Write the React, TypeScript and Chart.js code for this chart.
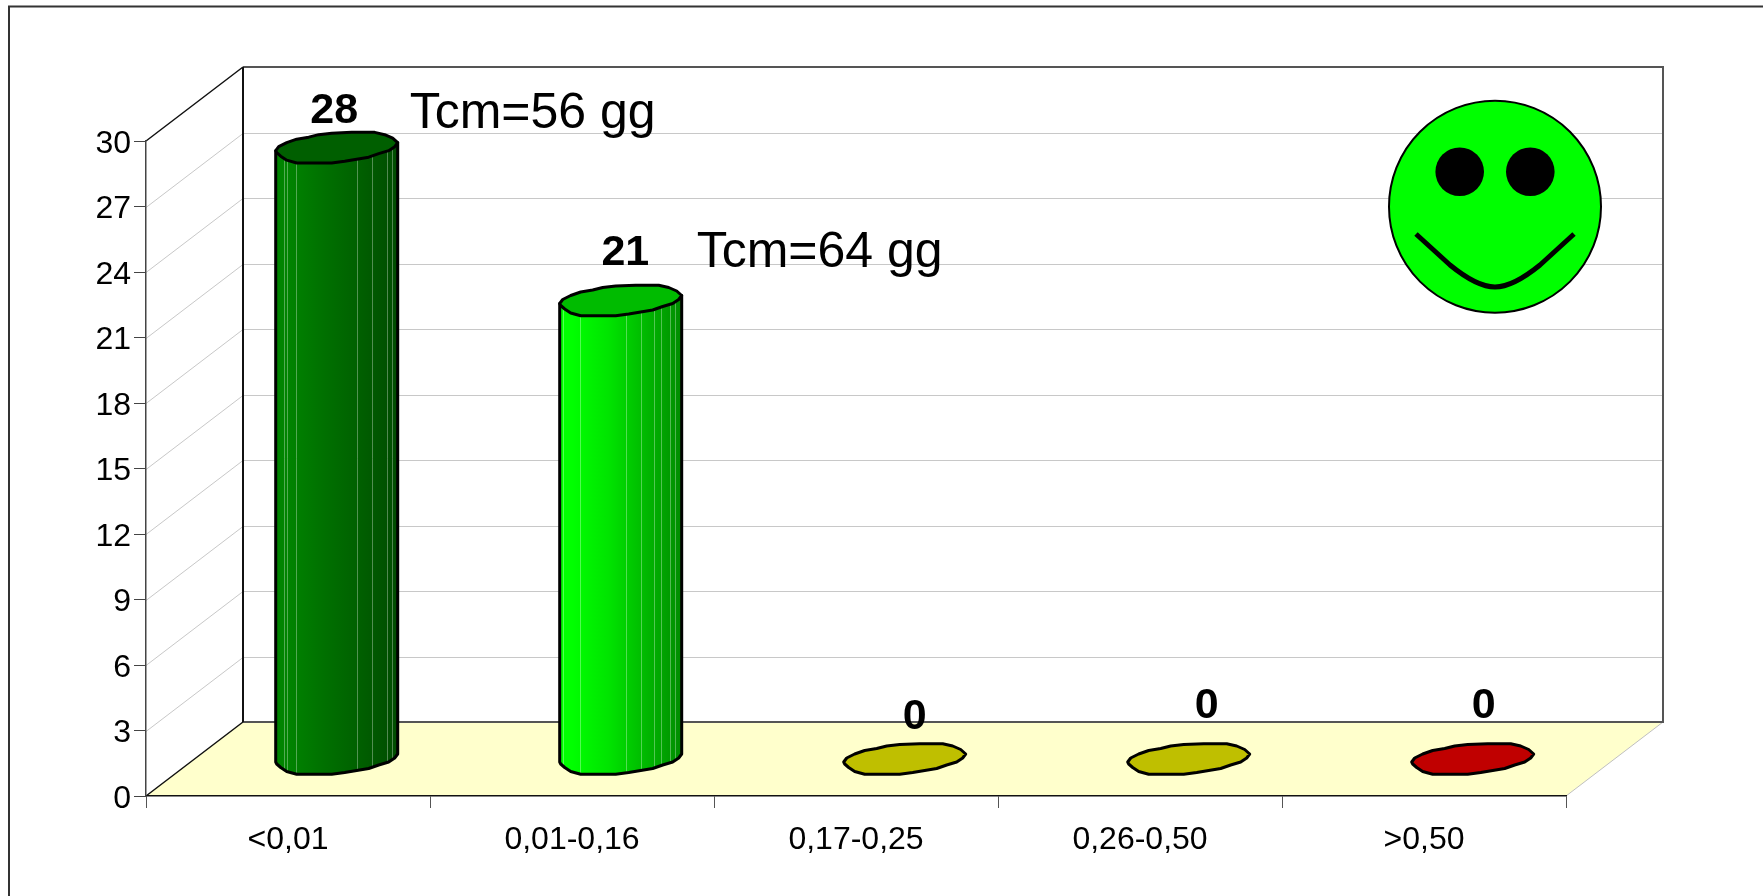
import React, { useEffect, useRef } from "react";
import { Chart, registerables } from "chart.js";

Chart.register(...registerables);

const categories = ["<0,01", "0,01-0,16", "0,17-0,25", "0,26-0,50", ">0,50"];
const values = [28, 21, 0, 0, 0];
const barColors = ["#006600", "#00dd00", "#bfbf00", "#bfbf00", "#c00000"];
const topColors = ["#005f00", "#00bb00", "#bfbf00", "#bfbf00", "#c00000"];
const gradients = [
  ["#008400", "#007000", "#006200", "#004c00"],
  ["#00ff00", "#00e400", "#00c000", "#008c00"],
  [],
  [],
  [],
];
const facets = [
  [-53, -49.4, -40.4, 20.6, 35, 50, 55],
  [-57.5, -40.8, 5.5, 20.2, 32.8, 40.2, 49.2, 54.2],
  [],
  [],
  [],
];
const labelOffsets = [
  [-2.5, -25],
  [4.6, -36],
  [10, -30],
  [18, -41],
  [11, -41],
];
const notes = [
  { text: "Tcm=56 gg", bar: 0, dx: 73, dy: -20 },
  { text: "Tcm=64 gg", bar: 1, dx: 76, dy: -34 },
];

// faceted outline of the cylinder's cap, relative to its centre; first = leftmost, RIGHT_INDEX = rightmost
const capOutline: [number, number][] = [
  [-61, 3], [-58, -1], [-50, -5], [-40, -8.5], [-28, -10.5], [-18, -13], [-5, -14.5], [15, -15.3], [38, -15.3],
  [48, -13], [56, -9.5], [61, -5],
  [58, -1], [52, 3], [42, 6], [32, 9.5], [20, 11.5], [8, 13.5], [-5, 15.3], [-25, 15.3], [-40, 15.3],
  [-50, 12.5], [-56, 8.5], [-60, 5],
];
const RIGHT_INDEX = 11;

const W = 1763;
const H = 896;
const LEFT = 146;
const RIGHT = 1566;
const TOP = 141;
const BOTTOM = 796;
const DX = 97;
const DY = 74;
const FONT = '"Liberation Sans", Arial, sans-serif';

function ring(cx: number, cy: number) {
  return capOutline.map(([a, b]) => [cx + a, cy + b] as [number, number]);
}

const scene = {
  id: "scene",
  beforeDraw(chart: any) {
    const { ctx, scales } = chart;
    const y = scales.y;
    const back = (v: number) => y.getPixelForValue(v) - DY;
    ctx.save();
    ctx.fillStyle = "#ffffff";
    ctx.fillRect(0, 0, W, H);

    // outer frame
    ctx.strokeStyle = "#333333";
    ctx.lineWidth = 2;
    ctx.beginPath();
    ctx.moveTo(9, H);
    ctx.lineTo(9, 6.5);
    ctx.lineTo(W, 6.5);
    ctx.stroke();

    // floor
    ctx.fillStyle = "#ffffcc";
    ctx.beginPath();
    ctx.moveTo(LEFT, BOTTOM);
    ctx.lineTo(LEFT + DX, BOTTOM - DY);
    ctx.lineTo(RIGHT + DX, BOTTOM - DY);
    ctx.lineTo(RIGHT, BOTTOM);
    ctx.closePath();
    ctx.fill();

    // grid on the walls
    ctx.strokeStyle = "#c8c8c8";
    ctx.lineWidth = 1;
    for (let v = 3; v < 30; v += 3) {
      const py = Math.round(y.getPixelForValue(v)) + 0.5;
      ctx.beginPath();
      ctx.moveTo(LEFT, py);
      ctx.lineTo(LEFT + DX, py - DY);
      ctx.lineTo(RIGHT + DX, py - DY);
      ctx.stroke();
    }

    // right floor edge
    ctx.strokeStyle = "#c0c0c0";
    ctx.beginPath();
    ctx.moveTo(RIGHT, BOTTOM);
    ctx.lineTo(RIGHT + DX, BOTTOM - DY);
    ctx.stroke();

    // back frame
    ctx.strokeStyle = "#555555";
    ctx.lineWidth = 2;
    ctx.beginPath();
    ctx.moveTo(LEFT + DX, back(30));
    ctx.lineTo(RIGHT + DX, back(30));
    ctx.lineTo(RIGHT + DX, back(0));
    ctx.lineTo(LEFT + DX, back(0));
    ctx.stroke();

    ctx.strokeStyle = "#111111";
    ctx.beginPath();
    ctx.moveTo(LEFT + DX, back(30));
    ctx.lineTo(LEFT + DX, back(0));
    ctx.stroke();

    ctx.lineWidth = 1.5;
    ctx.beginPath();
    ctx.moveTo(LEFT, y.getPixelForValue(30));
    ctx.lineTo(LEFT + DX, back(30));
    ctx.moveTo(LEFT, y.getPixelForValue(0));
    ctx.lineTo(LEFT + DX, back(0));
    ctx.stroke();
    ctx.restore();
  },
  beforeDatasetDraw(chart: any, args: any) {
    const { ctx, scales } = chart;
    const meta = args.meta;
    const y0 = scales.y.getPixelForValue(0) - 37;
    ctx.save();
    ctx.lineJoin = "round";
    meta.data.forEach((bar: any, i: number) => {
      const cx = bar.x + 48.7;
      const topY = bar.y - 37;
      const top = ring(cx, topY);
      if (values[i] > 0) {
        const bottom = ring(cx, y0);
        const path = new Path2D();
        path.moveTo(top[RIGHT_INDEX][0], top[RIGHT_INDEX][1]);
        for (let j = RIGHT_INDEX; j < bottom.length; j++) path.lineTo(bottom[j][0], bottom[j][1]);
        path.lineTo(bottom[0][0], bottom[0][1]);
        path.lineTo(top[0][0], top[0][1]);
        path.closePath();
        const g = ctx.createLinearGradient(cx - 61, 0, cx + 61, 0);
        gradients[i].forEach((c, k) => g.addColorStop([0.1, 0.4, 0.65, 1][k], c));
        ctx.fillStyle = g;
        ctx.fill(path);
        ctx.save();
        ctx.clip(path);
        ctx.strokeStyle = "rgba(255,255,255,0.32)";
        ctx.lineWidth = 1;
        facets[i].forEach((f) => {
          const fx = Math.round(cx + f) + 0.5;
          ctx.beginPath();
          ctx.moveTo(fx, topY - 30);
          ctx.lineTo(fx, y0 + 30);
          ctx.stroke();
        });
        ctx.restore();
        ctx.strokeStyle = "#000000";
        ctx.lineWidth = 3;
        ctx.stroke(path);
      }
      ctx.beginPath();
      top.forEach((p, j) => (j ? ctx.lineTo(p[0], p[1]) : ctx.moveTo(p[0], p[1])));
      ctx.closePath();
      ctx.fillStyle = topColors[i];
      ctx.fill();
      ctx.strokeStyle = "#000000";
      ctx.lineWidth = 3;
      ctx.stroke();
    });
    ctx.restore();
    return false;
  },
  afterDatasetsDraw(chart: any) {
    const { ctx } = chart;
    const meta = chart.getDatasetMeta(0);
    ctx.save();
    ctx.fillStyle = "#000000";
    ctx.textBaseline = "alphabetic";
    ctx.textAlign = "center";
    ctx.font = `bold 43px ${FONT}`;
    meta.data.forEach((bar: any, i: number) => {
      const topY = bar.y - 37;
      ctx.fillText(String(values[i]), bar.x + 48.7 + labelOffsets[i][0], topY + labelOffsets[i][1]);
    });
    ctx.textAlign = "left";
    ctx.font = `50px ${FONT}`;
    notes.forEach((n) => {
      const bar = meta.data[n.bar];
      ctx.fillText(n.text, bar.x + 48.7 + n.dx, bar.y - 37 + n.dy);
    });

    // smiley
    const sx = 1495;
    const sy = 206.7;
    ctx.beginPath();
    ctx.arc(sx, sy, 106, 0, Math.PI * 2);
    ctx.fillStyle = "#00ff00";
    ctx.fill();
    ctx.strokeStyle = "#000000";
    ctx.lineWidth = 2;
    ctx.stroke();
    ctx.fillStyle = "#000000";
    [-35.3, 35.3].forEach((d) => {
      ctx.beginPath();
      ctx.arc(sx + d, 171.7, 24.3, 0, Math.PI * 2);
      ctx.fill();
    });
    ctx.lineWidth = 5;
    ctx.lineJoin = "round";
    ctx.beginPath();
    ctx.moveTo(sx - 79, 234);
    ctx.lineTo(sx - 45, 265);
    ctx.quadraticCurveTo(sx - 18, 287, sx, 287);
    ctx.quadraticCurveTo(sx + 18, 287, sx + 45, 265);
    ctx.lineTo(sx + 79, 234);
    ctx.stroke();
    ctx.restore();
  },
};

export default function App() {
  const ref = useRef<HTMLCanvasElement | null>(null);
  useEffect(() => {
    document.body.style.margin = "0";
    const chart = new Chart(ref.current as HTMLCanvasElement, {
      type: "bar",
      data: {
        labels: categories,
        datasets: [{ data: values, backgroundColor: barColors, barPercentage: 0.43, categoryPercentage: 1 }],
      },
      options: {
        animation: false,
        responsive: false,
        devicePixelRatio: 1,
        layout: { padding: { left: 0, top: TOP, right: W - RIGHT, bottom: 0 } },
        plugins: { legend: { display: false }, title: { display: false }, tooltip: { enabled: false } },
        scales: {
          x: {
            offset: true,
            afterFit: (s: any) => { s.height = H - BOTTOM; },
            border: { display: true, color: "#111111", width: 1.5 },
            grid: { drawOnChartArea: false, drawTicks: true, tickLength: 12, tickColor: "#555555", offset: true },
            ticks: { color: "#000000", font: { family: FONT, size: 32 }, padding: 13, maxRotation: 0, autoSkip: false },
          },
          y: {
            min: 0,
            max: 30,
            afterFit: (s: any) => { s.width = LEFT; },
            border: { display: true, color: "#444444", width: 1.5 },
            grid: { drawOnChartArea: false, drawTicks: true, tickLength: 12, tickColor: "#444444" },
            ticks: { stepSize: 3, color: "#000000", font: { family: FONT, size: 32 }, padding: 3, labelOffset: 3 },
          },
        },
      },
      plugins: [scene],
    } as any);
    return () => chart.destroy();
  }, []);
  return (
    <div style={{ position: "absolute", left: 0, top: 0, width: W, height: H }}>
      <canvas ref={ref} width={W} height={H} style={{ display: "block", width: W, height: H }} />
    </div>
  );
}
